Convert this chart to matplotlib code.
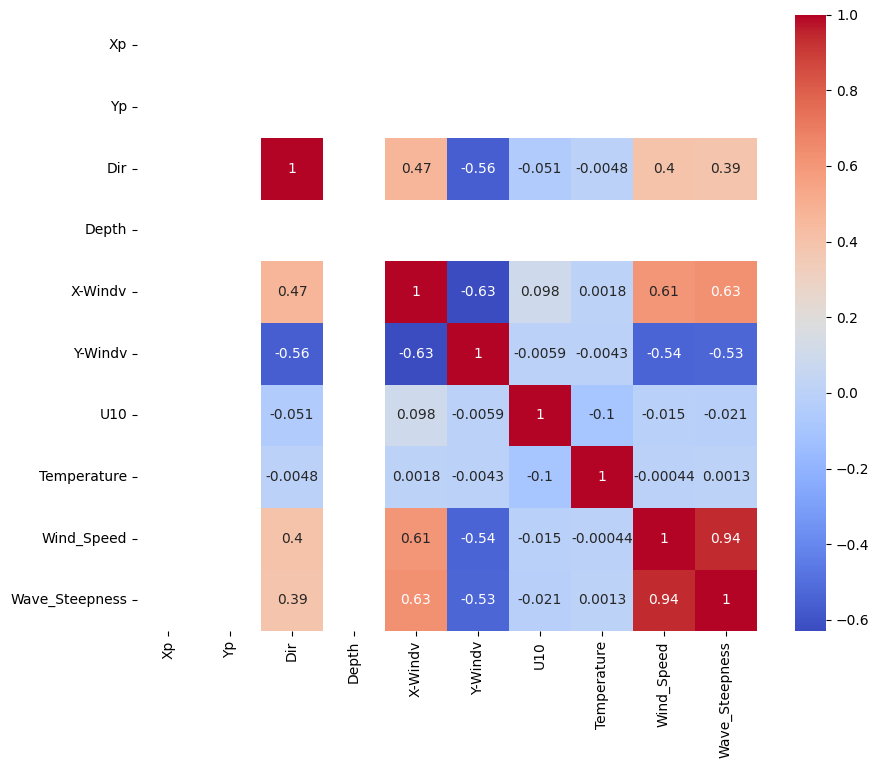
import numpy as np
import pandas as pd
import matplotlib
matplotlib.use("Agg")
import matplotlib.pyplot as plt
import seaborn as sns

labels = ['Xp', 'Yp', 'Dir', 'Depth', 'X-Windv', 'Y-Windv', 'U10',
          'Temperature', 'Wind_Speed', 'Wave_Steepness']

# correlation values for the non-constant columns (Xp, Yp, Depth are NaN)
valid = ['Dir', 'X-Windv', 'Y-Windv', 'U10', 'Temperature', 'Wind_Speed', 'Wave_Steepness']
corr_valid = [
    [1, 0.47, -0.56, -0.051, -0.0048, 0.4, 0.39],
    [0.47, 1, -0.63, 0.098, 0.0018, 0.61, 0.63],
    [-0.56, -0.63, 1, -0.0059, -0.0043, -0.54, -0.53],
    [-0.051, 0.098, -0.0059, 1, -0.1, -0.015, -0.021],
    [-0.0048, 0.0018, -0.0043, -0.1, 1, -0.00044, 0.0013],
    [0.4, 0.61, -0.54, -0.015, -0.00044, 1, 0.94],
    [0.39, 0.63, -0.53, -0.021, 0.0013, 0.94, 1],
]

corr = pd.DataFrame(np.nan, index=labels, columns=labels)
corr.loc[valid, valid] = np.array(corr_valid)

fig = plt.figure(figsize=(8.79, 7.68), dpi=100)
ax = fig.add_axes([0.156, 0.178, 0.705, 0.803])
cax = fig.add_axes([0.904, 0.178, 0.036, 0.803])
sns.heatmap(corr, annot=True, cmap='coolwarm', ax=ax, cbar_ax=cax)
fig.savefig('out.png', dpi=100)
